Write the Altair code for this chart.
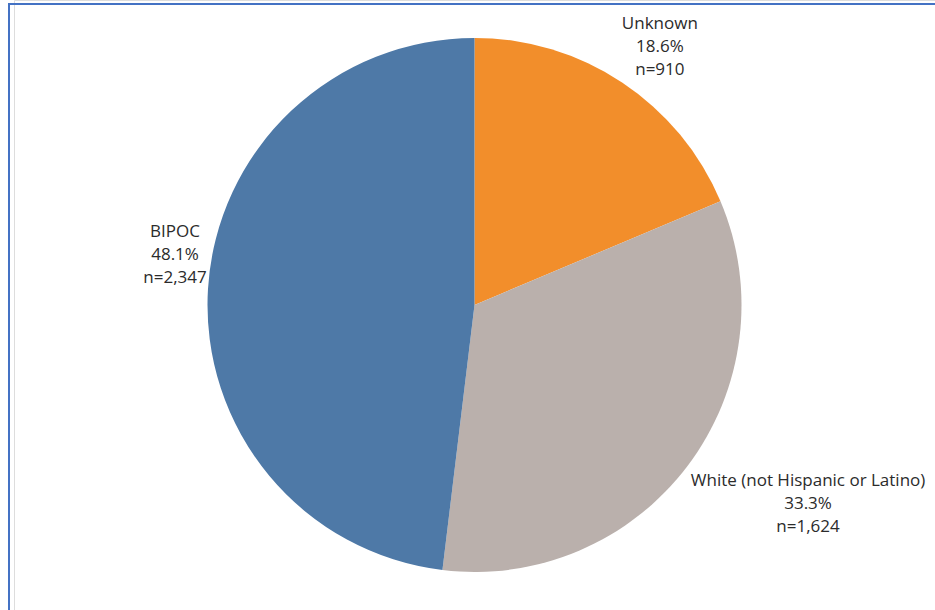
import altair as alt
import pandas as pd

categories = ["Unknown", "White (not Hispanic or Latino)", "BIPOC"]
counts = [910, 1624, 2347]
percents = [18.6, 33.3, 48.1]
colors = ["#F28E2B", "#BAB0AC", "#4E79A7"]

df = pd.DataFrame({
    "category": categories,
    "n": counts,
    "pct": percents,
    "order": list(range(len(categories))),
})

base = alt.Chart(df).transform_calculate(
    label="datum.category + '\\n' + format(datum.pct, '.1f') + '%\\n' + 'n=' + format(datum.n, ',')"
)

theta = alt.Theta("n:Q", stack=True)
order = alt.Order("order:Q", sort="ascending")

pie = base.mark_arc(outerRadius=267).encode(
    theta=theta,
    order=order,
    color=alt.Color("category:N", scale=alt.Scale(domain=categories, range=colors), legend=None),
)

font = dict(font="Open Sans", fontSize=17, color="#2b2b2b", lineBreak="\n", lineHeight=23,
            align="center", baseline="middle", radius=310)

offsets = {
    "Unknown": (14, -23),
    "White (not Hispanic or Latino)": (86, -11),
    "BIPOC": (10, -54),
}

texts = []
for cat in categories:
    dx, dy = offsets[cat]
    texts.append(
        base.mark_text(dx=dx, dy=dy, **font).encode(
            theta=theta,
            order=order,
            text="label:N",
            opacity=alt.condition(f"datum.category == '{cat}'", alt.value(1), alt.value(0)),
        )
    )

border_top = alt.Chart(df).mark_rule(color="#4472C4", strokeWidth=2).encode(
    x=alt.value(-5), x2=alt.value(930), y=alt.value(4)
)
border_left = alt.Chart(df).mark_rule(color="#4472C4", strokeWidth=2).encode(
    x=alt.value(-5), y=alt.value(3), y2=alt.value(615)
)

chart = alt.layer(pie, *texts, border_top, border_left).properties(
    width=921, height=610,
    padding={"left": 14, "right": 0, "top": 0, "bottom": 0},
    autosize=alt.AutoSizeParams(type="none"),
).configure_view(stroke=None).configure(background="white")

chart.save("out.html", embed_options={"renderer": "svg", "actions": False})
